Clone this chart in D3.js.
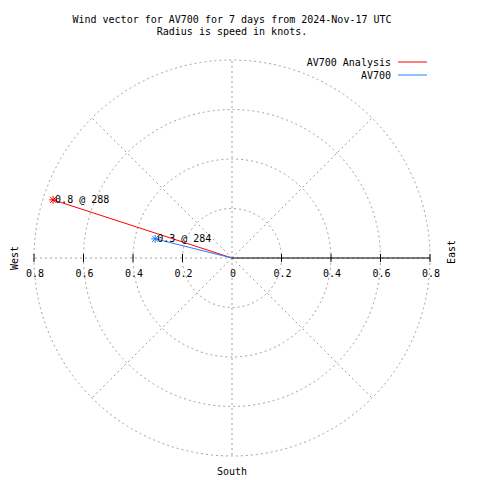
<!DOCTYPE html>
<html><head><meta charset="utf-8">
<script src="https://cdn.jsdelivr.net/npm/d3@7"></script>
<style>body{margin:0;background:#fff}svg{display:block}text{font-family:"DejaVu Sans Mono",monospace;font-size:10px;fill:#000}</style>
</head><body>
<svg id="c" width="480" height="480"></svg>
<script>
const titleLines = ["Wind vector for AV700 for 7 days from 2024-Nov-17 UTC", "Radius is speed in knots."];
const seriesNames = ["AV700 Analysis", "AV700"];
const speeds = [0.76, 0.32];
const directions = [288, 284];
const seriesColors = ["#ff0000", "#1e80ff"];
const radialTicks = [0.2, 0.4, 0.6, 0.8];
const tickLabels = ["0", "0.2", "0.4", "0.6", "0.8"];
const gridAngles = [0, 45, 90, 135, 180, 225, 270, 315];
const compassLabels = ["West", "East", "South"];

const svg = d3.select("#c");
svg.append("rect").attr("width", 480).attr("height", 480).attr("fill", "#fff");
const cx = 232, cy = 258;
const r = d3.scaleLinear().domain([0, 0.8]).range([0, 198]);
const pt = (deg, v) => [cx + r(v) * Math.sin(deg * Math.PI / 180), cy - r(v) * Math.cos(deg * Math.PI / 180)];

// title
svg.selectAll("text.title").data(titleLines).join("text").attr("class", "title")
  .attr("x", cx).attr("y", (d, i) => 23 + i * 12).attr("text-anchor", "middle").text(d => d);

// tick labels along horizontal axis
const lblVals = [0].concat(radialTicks);
lblVals.forEach((v, i) => {
  svg.append("text").attr("x", cx + r(v) + 1).attr("y", 277).attr("text-anchor", "middle").text(tickLabels[i]);
  if (v > 0) svg.append("text").attr("x", cx - r(v) + 1).attr("y", 277).attr("text-anchor", "middle").text(tickLabels[i]);
});

// grid
const grid = svg.append("g").attr("fill", "none").attr("stroke", "#a0a0a0").attr("stroke-width", 1).attr("stroke-dasharray", "2,3");
grid.selectAll("circle").data(radialTicks).join("circle").attr("cx", cx).attr("cy", cy).attr("r", d => r(d));
grid.selectAll("line").data(gridAngles).join("line")
  .attr("x1", cx).attr("y1", cy)
  .attr("x2", d => pt(d, 0.8)[0]).attr("y2", d => pt(d, 0.8)[1]);

// axis east
svg.append("line").attr("x1", cx).attr("y1", cy).attr("x2", cx + r(0.8)).attr("y2", cy).attr("stroke", "#000");
radialTicks.forEach(v => {
  [cx + r(v), cx - r(v)].forEach(x => svg.append("line").attr("x1", x).attr("x2", x).attr("y1", cy - 4).attr("y2", cy + 4).attr("stroke", "#000"));
});

// compass labels
svg.append("text").attr("transform", `translate(18,${cy}) rotate(-90)`).attr("text-anchor", "middle").text(compassLabels[0]);
svg.append("text").attr("transform", `translate(455,${cy - 6}) rotate(-90)`).attr("text-anchor", "middle").text(compassLabels[1]);
svg.append("text").attr("x", cx).attr("y", 475).attr("text-anchor", "middle").text(compassLabels[2]);

// vectors
const fmt = d3.format(".1f");
speeds.forEach((s, i) => {
  const [x, y] = pt(directions[i], s);
  svg.append("line").attr("x1", cx).attr("y1", cy).attr("x2", x).attr("y2", y).attr("stroke", seriesColors[i]);
  const m = svg.append("g").attr("stroke", seriesColors[i]).attr("stroke-width", 1);
  m.append("line").attr("x1", x - 4).attr("x2", x + 4).attr("y1", y).attr("y2", y);
  m.append("line").attr("x1", x).attr("x2", x).attr("y1", y - 4).attr("y2", y + 4);
  m.append("line").attr("x1", x - 3).attr("x2", x + 3).attr("y1", y - 3).attr("y2", y + 3);
  m.append("line").attr("x1", x - 3).attr("x2", x + 3).attr("y1", y + 3).attr("y2", y - 3);
  svg.append("text").attr("x", x + 2).attr("y", y + 3).text(fmt(s) + " @ " + directions[i]);
});

// legend
seriesNames.forEach((n, i) => {
  const y = 66 + i * 13;
  svg.append("text").attr("x", 391).attr("y", y).attr("text-anchor", "end").text(n);
  svg.append("line").attr("x1", 398).attr("x2", 427).attr("y1", y - 4).attr("y2", y - 4).attr("stroke", seriesColors[i]);
});
</script>
</body></html>
